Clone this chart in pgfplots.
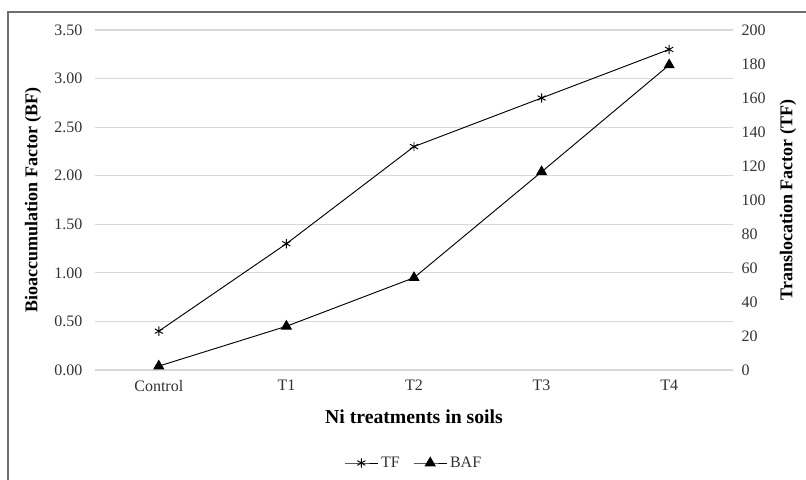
\documentclass[border=0pt]{standalone}
\usepackage{pgfplots}
\pgfplotsset{compat=1.18}
\usepackage{fontspec}
\setmainfont{Liberation Serif}
\definecolor{gridc}{RGB}{217,217,217}
\definecolor{tickc}{RGB}{50,50,50}
\definecolor{framec}{RGB}{110,110,110}
\begin{document}
\begin{tikzpicture}
\useasboundingbox (0,0) rectangle (604.5pt,359.25pt);
\draw[framec, line width=0.9pt] (6pt,-2pt) -- (6pt,350.25pt) -- (606pt,350.25pt);
\begin{axis}[
  at={(71.25pt,81.75pt)}, anchor=south west,
  width=478.5pt, height=255pt, scale only axis,
  xmin=-0.5, xmax=4.5, ymin=0, ymax=3.5,
  enlargelimits=false, clip=false,
  axis line style={draw=none},
  tick style={draw=none},
  xtick={0,1,2,3,4},
  xticklabels={Control,T1,T2,T3,T4},
  ytick={0,0.5,...,3.5},
  ymajorgrids, grid style={gridc, line width=0.9pt},
  /pgf/number format/assume math mode=true,
  yticklabel={\pgfmathprintnumber[fixed,fixed zerofill,precision=2]{\tick}},
  ticklabel style={font=\fontsize{12}{14}\selectfont, text=tickc},
  yticklabel style={xshift=-6pt},
  xticklabel style={yshift=-4pt},
  xlabel={Ni treatments in soils},
  xlabel style={at={(axis description cs:0.5,-0.1382)}, anchor=center, font=\fontsize{14.8}{17}\selectfont\bfseries},
  ylabel={Bioaccumulation Factor (BF)},
  ylabel style={at={(axis description cs:-0.0972,0.5)}, anchor=center, rotate=0, font=\fontsize{13.5}{16}\selectfont\bfseries},
  legend style={at={(axis description cs:0.5,-0.2735)}, anchor=center, draw=none, fill=none,
    legend columns=2, font=\fontsize{12}{14}\selectfont, text=tickc,
    /tikz/every even column/.append style={column sep=8pt}},
  legend image code/.code={\draw[mark repeat=2, mark phase=2, #1] plot coordinates {(0pt,0pt) (12.5pt,0pt) (25pt,0pt)};},
]
\addplot[black, line width=0.7pt, mark=asterisk, mark size=3.5pt, mark options={line width=0.7pt}] coordinates {
  (0,0.40) (1,1.30) (2,2.30) (3,2.80) (4,3.30)};
\addlegendentry{TF}
\addplot[black, line width=0.7pt, mark=triangle*, mark size=4.2pt] coordinates {
  (0,0.04) (1,0.45) (2,0.95) (3,2.04) (4,3.14)};
\addlegendentry{BAF}
\end{axis}
\begin{axis}[
  at={(71.25pt,81.75pt)}, anchor=south west,
  width=478.5pt, height=255pt, scale only axis,
  xmin=-0.5, xmax=4.5, ymin=0, ymax=200,
  enlargelimits=false,
  axis x line=none, axis y line*=right,
  axis line style={draw=none},
  tick style={draw=none},
  ytick={0,20,...,200},
  /pgf/number format/assume math mode=true,
  ticklabel style={font=\fontsize{12}{14}\selectfont, text=tickc},
  yticklabel style={xshift=3pt},
  ylabel={Translocation Factor (TF)},
  ylabel style={at={(axis description cs:1.0862,0.5)}, anchor=center, rotate=0, font=\fontsize{13.5}{16}\selectfont\bfseries},
]
\end{axis}
\end{tikzpicture}
\end{document}
